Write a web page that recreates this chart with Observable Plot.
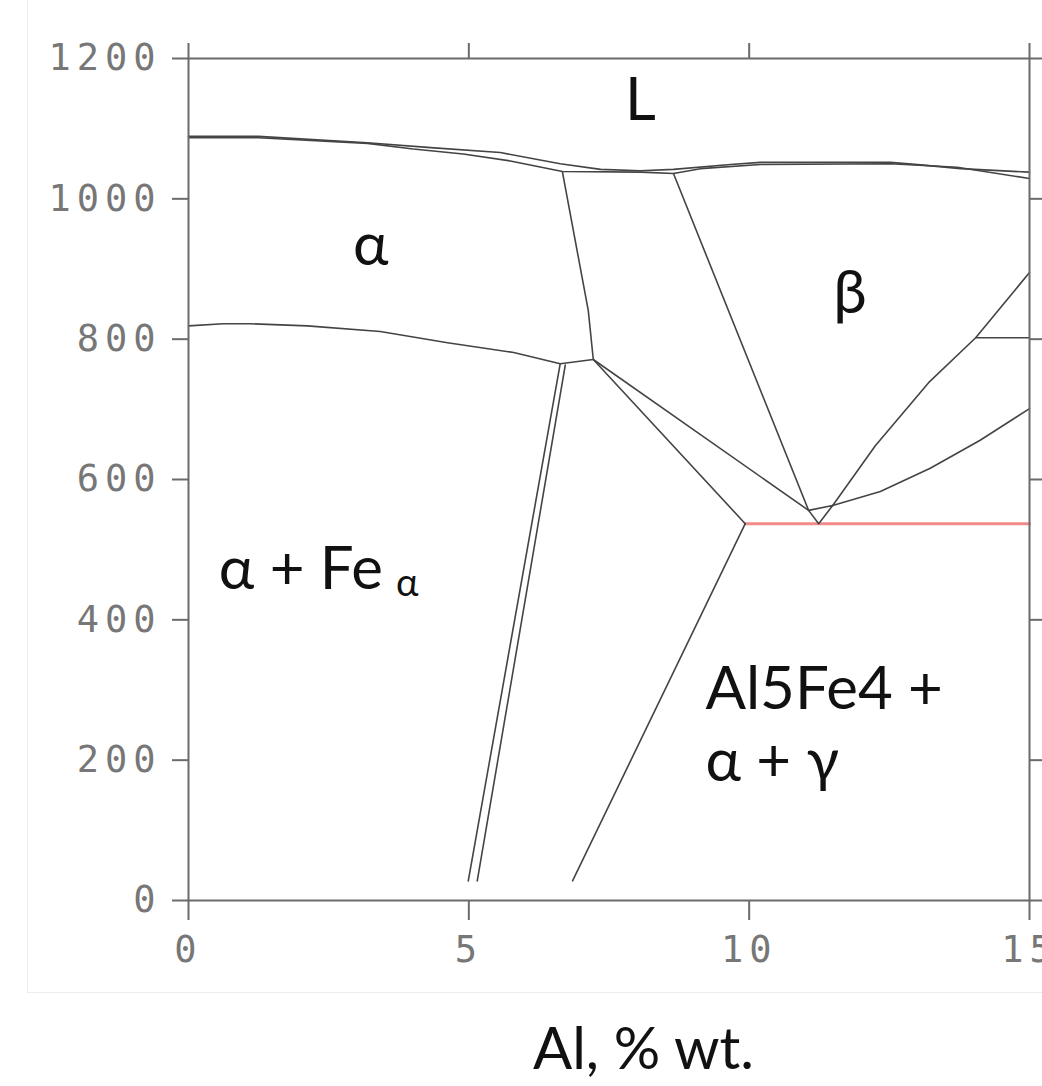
<!DOCTYPE html>
<html><head><meta charset="utf-8">
<script src="https://cdn.jsdelivr.net/npm/d3@7"></script>
<script src="https://cdn.jsdelivr.net/npm/@observablehq/plot@0.6"></script>
<style>
body{margin:0;background:#fff;width:1042px;height:1086px;overflow:hidden;position:relative;font-family:Lato,"Open Sans",sans-serif}
#border{position:absolute;left:27px;top:0;width:1015px;height:992px;border-left:1px solid #ececec;border-bottom:1px solid #ececec;}
#chart{position:absolute;left:0;top:0}
#xlabel{position:absolute;left:533px;top:1018px;font-size:58px;line-height:58px;color:#111;white-space:nowrap}
#chart g[aria-label="y-axis tick label"] text,#chart g[aria-label="x-axis tick label"] text{letter-spacing:6px}
</style></head>
<body>
<div id="border"></div>
<div id="chart"></div>
<div id="xlabel">Al, % wt.</div>
<script>
// ticks
const xTicks = [0, 5, 10, 15];
const yTicks = [0, 200, 400, 600, 800, 1000, 1200];

// phase boundaries (Al wt.% , temperature °C)
const liquidusX = [0, 1.25, 3.19, 4.32, 5.56, 6.63, 7.35, 8.06, 8.65, 9.67, 10.2, 12.52, 13.11, 13.77, 15];
const liquidusY = [1089, 1089, 1080, 1073, 1066, 1050, 1042, 1040, 1042, 1049, 1052, 1052, 1048, 1043, 1038];
const solidusX = [0, 1.25, 3.19, 4.01, 4.9, 5.74, 6.67, 8.06, 8.65, 9.13, 10.2, 12.52, 13.71, 15];
const solidusY = [1087, 1087, 1079, 1071, 1064, 1054, 1039, 1038, 1036, 1043, 1049, 1050, 1045, 1029];
const alphaSolvusX = [0, 0.62, 1.11, 2.12, 3.42, 4.62, 5.8, 6.63, 7.22];
const alphaSolvusY = [819, 822, 822, 819, 811, 795, 781, 765, 771];
const alphaBetaX = [6.67, 7.13, 7.22];
const alphaBetaY = [1038, 841, 771];
const feAX = [6.63, 4.99];
const feAY = [765, 28];
const feBX = [6.72, 5.15];
const feBY = [763, 28];
const upperDiagX = [7.22, 11.06];
const upperDiagY = [771, 556];
const lowerDiagX = [7.22, 9.93];
const lowerDiagY = [771, 537];
const lowerLeftX = [9.93, 6.85];
const lowerLeftY = [537, 28];
const betaLeftX = [8.65, 11.06];
const betaLeftY = [1036, 556];
const triangleX = [11.06, 11.49, 11.24, 11.06];
const triangleY = [556, 563, 537, 556];
const betaRightUpperX = [11.49, 12.25, 13.2, 14.04, 15];
const betaRightUpperY = [563, 648, 738, 802, 895];
const hLineX = [14.04, 15];
const hLineY = [802, 802];
const betaRightLowerX = [11.49, 12.34, 13.23, 14.12, 15];
const betaRightLowerY = [563, 583, 616, 656, 701];
const eutectoidX = [9.93, 15];
const eutectoidY = [537, 537];

// region labels
const labelText = ["L", "α", "β", "α + Fe", "Al5Fe4 +\nα + γ"];
const labelX = [8.06, 3.25, 11.8, 0.54, 9.22];
const labelY = [1140, 933, 865, 477, 254];
const labelAnchor = ["middle", "middle", "middle", "start", "start"];
const subText = ["α"];
const subX = [3.7];
const subY = [452];

const boundaries = [
  ["liquidus", liquidusX, liquidusY], ["solidus", solidusX, solidusY],
  ["alphaSolvus", alphaSolvusX, alphaSolvusY], ["alphaBeta", alphaBetaX, alphaBetaY],
  ["feA", feAX, feAY], ["feB", feBX, feBY], ["upperDiag", upperDiagX, upperDiagY],
  ["lowerDiag", lowerDiagX, lowerDiagY], ["lowerLeft", lowerLeftX, lowerLeftY],
  ["betaLeft", betaLeftX, betaLeftY], ["triangle", triangleX, triangleY],
  ["betaRightUpper", betaRightUpperX, betaRightUpperY], ["hLine", hLineX, hLineY],
  ["betaRightLower", betaRightLowerX, betaRightLowerY]
];
const rows = boundaries.flatMap(([id, xs, ys]) => xs.map((x, i) => ({id, x, y: ys[i]})));
const redRows = eutectoidX.map((x, i) => ({x, y: eutectoidY[i]}));
const labels = labelText.map((t, i) => ({t, x: labelX[i], y: labelY[i], a: labelAnchor[i]}));
const subs = subText.map((t, i) => ({t, x: subX[i], y: subY[i]}));

const axisGray = "#6b6b6b";
const tickFont = "'DejaVu Sans Mono', monospace";
const textFont = "Lato, 'Open Sans', sans-serif";

const chart = Plot.plot({
  width: 1042, height: 995,
  marginLeft: 188, marginRight: 13, marginTop: 58, marginBottom: 95,
  x: {domain: [0, 15]},
  y: {domain: [0, 1200]},
  style: {background: "transparent", overflow: "visible"},
  marks: [
    Plot.line(redRows, {x: "x", y: "y", stroke: "#f28a8a", strokeWidth: 3}),
    Plot.line(rows, {x: "x", y: "y", z: "id", stroke: "#444", strokeWidth: 1.6}),
    Plot.frame({stroke: axisGray, strokeWidth: 2}),
    Plot.axisY({anchor: "left", ticks: yTicks, tickSize: 16, tickPadding: 11, label: null,
      stroke: axisGray, strokeWidth: 2, fill: "#777", fontSize: 37, fontFamily: tickFont, tickFormat: d => String(d)}),
    Plot.axisX({anchor: "bottom", ticks: xTicks, tickSize: 20, tickPadding: 15, label: null,
      stroke: axisGray, strokeWidth: 2, fill: "#777", fontSize: 37, fontFamily: tickFont, tickFormat: d => String(d)}),
    Plot.axisX({anchor: "top", ticks: xTicks, tickSize: 16, label: null, stroke: axisGray, strokeWidth: 2, tickFormat: () => ""}),
    Plot.axisY({anchor: "right", ticks: yTicks, tickSize: 16, label: null, stroke: axisGray, strokeWidth: 2, tickFormat: () => ""}),
    Plot.text(labels.filter(d => d.a === "middle"), {x: "x", y: "y", text: "t", textAnchor: "middle", lineAnchor: "middle",
      fontSize: 60, fontFamily: textFont, fill: "#111"}),
    Plot.text(labels.filter(d => d.a === "start"), {x: "x", y: "y", text: "t", textAnchor: "start", lineAnchor: "middle",
      lineHeight: 1.2, fontSize: 60, fontFamily: textFont, fill: "#111"}),
    Plot.text(subs, {x: "x", y: "y", text: "t", textAnchor: "start", lineAnchor: "middle",
      fontSize: 38, fontFamily: textFont, fill: "#111"})
  ]
});
document.getElementById("chart").appendChild(chart);
</script>
</body></html>
